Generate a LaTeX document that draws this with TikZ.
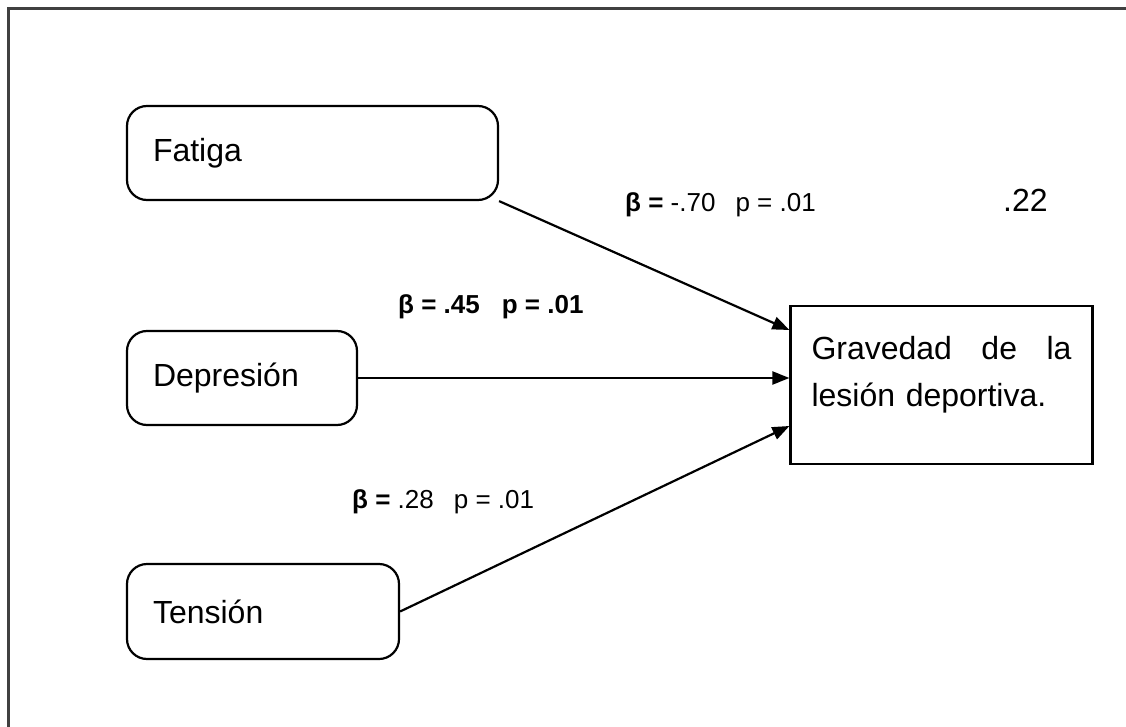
\documentclass[tikz,border=0pt]{standalone}
\usepackage{fontspec}
\setmainfont{Liberation Sans}
\usetikzlibrary{arrows.meta}
\definecolor{framegray}{HTML}{404040}
\begin{document}
\begin{tikzpicture}[x=1pt,y=-1pt,
  varbox/.style={draw=black,line width=2.2pt,rounded corners=20pt,
    align=left,inner xsep=26pt,inner ysep=0pt,
    font=\fontsize{32}{38}\selectfont},
  outbox/.style={draw=black,line width=2.2pt,align=left,
    inner xsep=21pt,inner ysep=0pt,text width=260pt,
    minimum width=301pt,minimum height=158pt,
    text height=53pt,text depth=105pt,
    font=\fontsize{32}{47}\selectfont},
  coef/.style={anchor=west,inner sep=0pt,font=\fontsize{26}{30}\selectfont},
  path/.style={line width=2.2pt,-{Triangle[length=17pt,width=13pt]}}]
  \useasboundingbox (0,0) rectangle (1126,727);
  % open frame round the diagram
  \draw[framegray,line width=3pt] (8,740) -- (8,9) -- (1140,9);

  % predictors
  \node[varbox,text width=319pt,minimum height=94pt] (fat) at (312.5,153) {Fatiga};
  \node[varbox,text width=178pt,minimum height=94pt] (dep) at (242,378) {Depresión};
  \node[varbox,text width=220pt,minimum height=95pt] (ten) at (263,611.5) {Tensión};

  % outcome
  \node[outbox] (grav) at (941.5,385)
    {\hbox to 260pt{Gravedad\hfill de\hfill la}\\lesión deportiva.};

  % explained variance
  \node[anchor=west,inner sep=0pt,font=\fontsize{32}{38}\selectfont] (r2) at (1003,200) {.22};

  % paths
  \draw[path] (fat.south east) -- (grav.west |- 0,330);
  \draw[path] (dep.east) -- (grav.west |- dep.east);
  \draw[path] (ten.east) -- (grav.west |- 0,426);

  % coefficients
  \node[coef] (cfat) at (625,205) {\textbf{β =} -.70\hspace{20pt}p = .01};
  \node[coef] (cdep) at (398,307) {\textbf{β = .45\hspace{22pt}p = .01}};
  \node[coef] (cten) at (352,502) {\textbf{β =} .28\hspace{20pt}p = .01};
\end{tikzpicture}
\end{document}
